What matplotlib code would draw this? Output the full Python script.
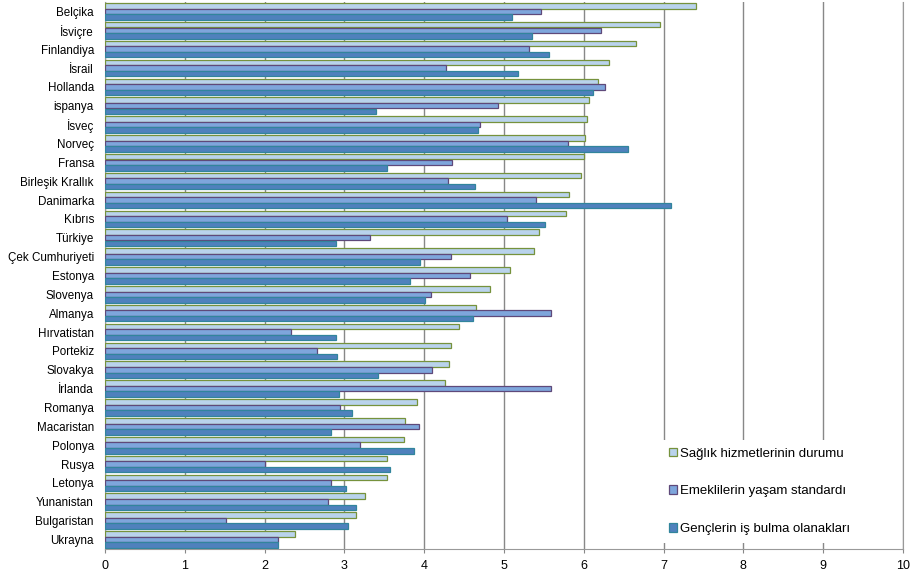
import numpy as np
import matplotlib
matplotlib.use("Agg")
import matplotlib.pyplot as plt
from matplotlib.patches import Patch

plt.rcParams["font.family"] = ["Liberation Sans", "DejaVu Sans"]

ulkeler = ["Belçika", "İsviçre", "Finlandiya", "İsrail", "Hollanda", "ispanya",
           "İsveç", "Norveç", "Fransa", "Birleşik Krallık", "Danimarka", "Kıbrıs",
           "Türkiye", "Çek Cumhuriyeti", "Estonya", "Slovenya", "Almanya",
           "Hırvatistan", "Portekiz", "Slovakya", "İrlanda", "Romanya",
           "Macaristan", "Polonya", "Rusya", "Letonya", "Yunanistan",
           "Bulgaristan", "Ukrayna"]

saglik = [7.41, 6.95, 6.65, 6.31, 6.18, 6.07, 6.04, 6.02, 6.00, 5.96, 5.82, 5.78,
          5.44, 5.38, 5.07, 4.83, 4.65, 4.43, 4.33, 4.31, 4.26, 3.91, 3.76, 3.75,
          3.54, 3.53, 3.26, 3.15, 2.38]
emekli = [5.46, 6.22, 5.31, 4.27, 6.27, 4.93, 4.70, 5.80, 4.35, 4.30, 5.40, 5.04,
          3.32, 4.34, 4.57, 4.09, 5.59, 2.33, 2.66, 4.10, 5.59, 2.95, 3.94, 3.20,
          2.01, 2.83, 2.79, 1.51, 2.17]
gencler = [5.10, 5.35, 5.57, 5.18, 6.11, 3.40, 4.67, 6.55, 3.54, 4.64, 7.09, 5.51,
           2.90, 3.95, 3.82, 4.01, 4.61, 2.90, 2.91, 3.42, 2.93, 3.10, 2.83, 3.87,
           3.57, 3.02, 3.14, 3.04, 2.17]

seriler = [
    ("Sağlık hizmetlerinin durumu", saglik, "#b9d3ec", "#76923c"),
    ("Emeklilerin yaşam standardı", emekli, "#7ea6dc", "#5f497a"),
    ("Gençlerin iş bulma olanakları", gencler, "#4f81bd", "#31859c"),
]

fig = plt.figure(figsize=(9.15, 5.76), dpi=100)
ax = fig.add_axes([0.1148, 0.047, 0.872, 0.9495])

n = len(ulkeler)
y = np.arange(n)
h = 0.29
for i, (ad, vals, fc, ec) in enumerate(seriler):
    ax.barh(y + (i - 1) * (h + 0.005), vals, height=h, color=fc,
            edgecolor=ec, linewidth=0.9, label=ad, zorder=3)

ax.set_xlim(0, 10)
ax.set_ylim(n - 0.5, -0.5)
ax.set_xticks(range(11))
ax.set_yticks(y)
ax.set_yticklabels(ulkeler, fontsize=8.4)
ax.tick_params(axis="y", length=0, pad=8)
ax.tick_params(axis="x", labelsize=9, length=3, color="#888888", pad=5)
ax.grid(axis="x", color="#888888", linewidth=1, zorder=0)
for s in ["left", "bottom", "right"]:
    ax.spines[s].set_color("#999999")
ax.spines["top"].set_visible(False)

handles = [Patch(facecolor=fc, edgecolor=ec, linewidth=0.9) for _, _, fc, ec in seriler]
leg = fig.legend(handles, [s[0] for s in seriler], loc="upper left",
                 bbox_to_anchor=(654 / 915, 1 - 433 / 576), fontsize=9.5,
                 handlelength=0.65, handleheight=0.65, handletextpad=0.2,
                 labelspacing=1.95, frameon=True, fancybox=False,
                 borderpad=0.6)
leg.get_frame().set_edgecolor("none")
leg.get_frame().set_facecolor("white")
leg.get_frame().set_alpha(1)

fig.savefig("out.png", dpi=100)
